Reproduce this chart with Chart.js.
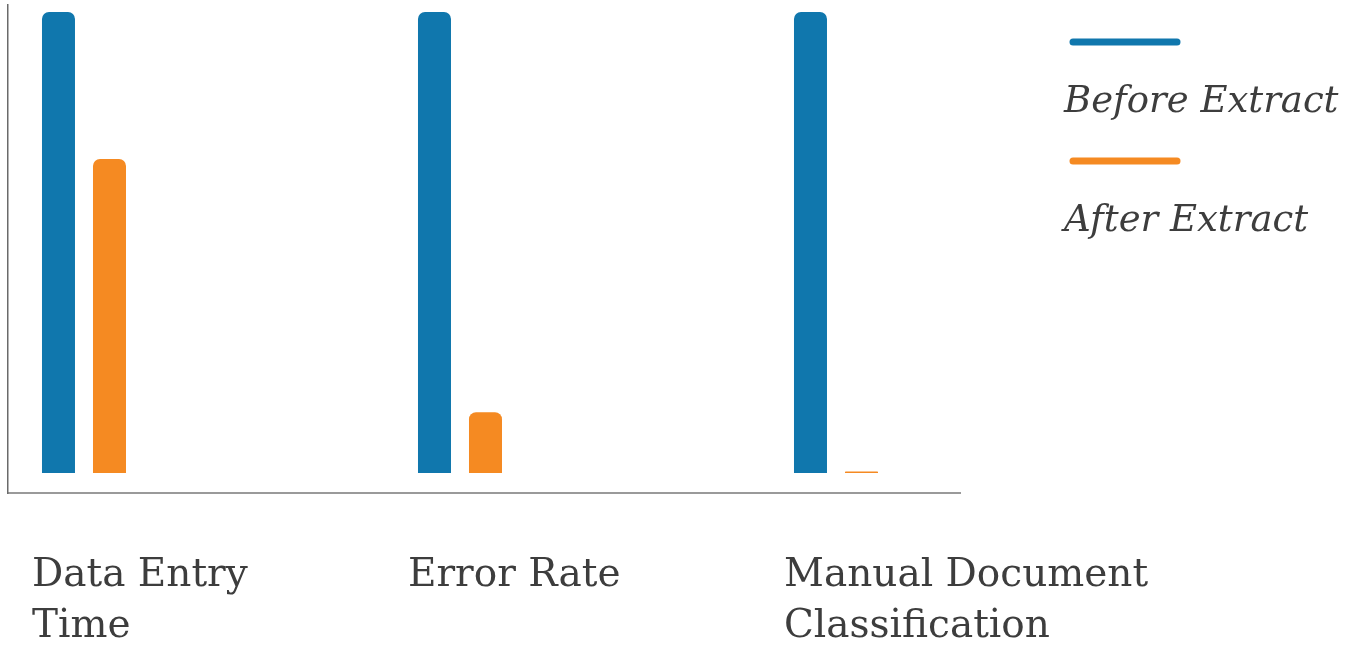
<!DOCTYPE html>
<html>
<head>
<meta charset="utf-8">
<title>Before / After Extract</title>
<script src="https://cdn.jsdelivr.net/npm/chart.js@4/dist/chart.umd.min.js"></script>
<style>
    html, body { margin: 0; padding: 0; background: #fff; }
    #wrap { position: relative; width: 1361px; height: 655px; }
</style>
</head>
<body>
<div id="wrap"><canvas id="extractChart"></canvas></div>
<script>
// chart data
var categories = [['Data Entry', 'Time'], ['Error Rate'], ['Manual Document', 'Classification']];
var seriesNames = ['Before Extract', 'After Extract'];
var beforeValues = [100, 100, 100];
var afterValues = [68.1, 13.2, 0.3];

(function () {
    'use strict';

    var BLUE = '#1077ad';
    var ORANGE = '#f58a22';
    var TEXT = '#3d3d3d';

    function points(values) {
        return values.map(function (v, i) { return { x: i, y: v }; });
    }

    // legend drawn as a line above an italic label, like the original slide
    var stackedLegend = {
        id: 'stackedLegend',
        afterDraw: function (chart) {
            var ctx = chart.ctx;
            ctx.save();
            chart.data.datasets.forEach(function (ds, i) {
                var y = 42 + i * 119;
                ctx.strokeStyle = ds.backgroundColor;
                ctx.lineWidth = 7;
                ctx.lineCap = 'round';
                ctx.beginPath();
                ctx.moveTo(1073, y);
                ctx.lineTo(1177, y);
                ctx.stroke();

                ctx.fillStyle = TEXT;
                ctx.font = 'italic 37px "DejaVu Serif"';
                ctx.textAlign = 'left';
                ctx.textBaseline = 'alphabetic';
                ctx.fillText(ds.label, 1064, y + 70);
            });
            ctx.restore();
        }
    };

    new Chart(document.getElementById('extractChart'), {
        type: 'bar',
        data: {
            datasets: [{
                label: seriesNames[0],
                data: points(beforeValues),
                backgroundColor: BLUE,
                borderRadius: 7,
                categoryPercentage: 0.2713,
                barPercentage: 0.647,
            }, {
                label: seriesNames[1],
                data: points(afterValues),
                backgroundColor: ORANGE,
                borderRadius: 7,
                categoryPercentage: 0.2713,
                barPercentage: 0.647,
            }]
        },
        options: {
            responsive: true,
            maintainAspectRatio: false,
            animation: false,
            // tick padding is counted twice in the axis height, hence the negative bottom
            layout: { padding: { left: 8, top: 5, right: 401, bottom: -55.4 } },
            plugins: { legend: { display: false }, tooltip: { enabled: false } },
            scales: {
                x: {
                    type: 'linear',
                    offset: false,
                    min: -0.2021,
                    max: 2.3298,
                    grid: { display: false, drawTicks: false, offset: false },
                    border: { display: true, color: '#9a9a9a', width: 2 },
                    ticks: {
                        stepSize: 1,
                        includeBounds: false,
                        autoSkip: false,
                        maxRotation: 0,
                        align: 'start',
                        labelOffset: -52,
                        padding: 58,
                        color: TEXT,
                        font: { family: '"DejaVu Serif"', size: 39, lineHeight: 1.3 },
                        callback: function (v) {
                            return Number.isInteger(v) && categories[v] ? categories[v] : '';
                        }
                    }
                },
                y: {
                    min: -4.34,
                    max: 101.52,
                    grid: { display: false, drawTicks: false },
                    border: { display: true, color: '#6a6a6a', width: 1.5 },
                    ticks: { display: false }
                }
            }
        },
        plugins: [stackedLegend]
    });

}());
</script>
</body>
</html>
